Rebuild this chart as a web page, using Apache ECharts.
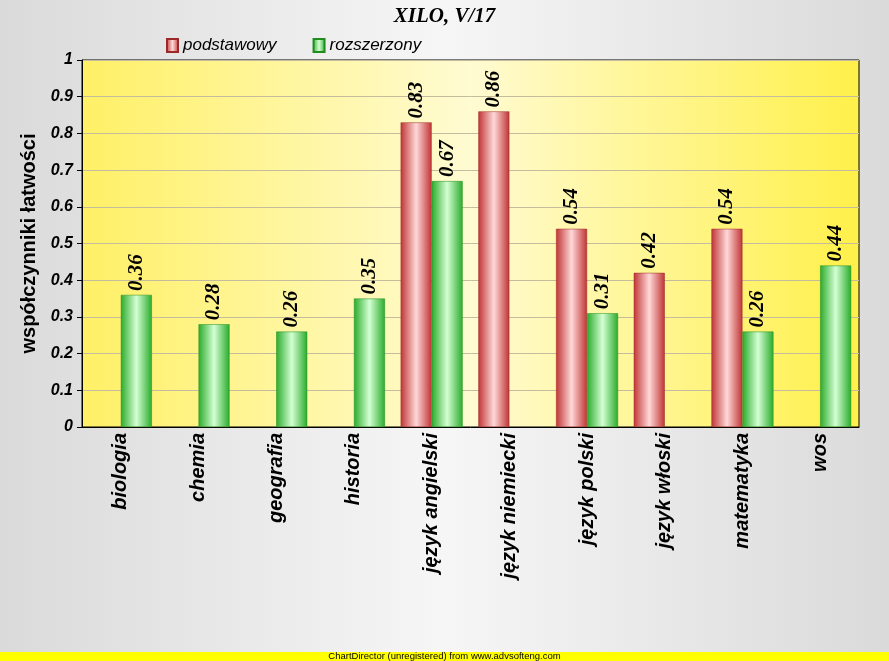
<!DOCTYPE html>
<html>
<head>
<meta charset="utf-8">
<script src="https://cdn.jsdelivr.net/npm/echarts@6/dist/echarts.min.js"></script>
<style>
html, body { margin: 0; padding: 0; }
#chart { width: 889px; height: 661px; }
</style>
</head>
<body>
<div id="chart"></div>
<script>
var categories = ['biologia', 'chemia', 'geografia', 'historia', 'język angielski', 'język niemiecki', 'język polski', 'język włoski', 'matematyka', 'wos'];
var podstawowy = [null, null, null, null, 0.83, 0.86, 0.54, 0.42, 0.54, null];
var rozszerzony = [0.36, 0.28, 0.26, 0.35, 0.67, null, 0.31, null, 0.26, 0.44];

function barGrad(dark, light) {
  return new echarts.graphic.LinearGradient(0, 0, 1, 0, [
    { offset: 0, color: dark },
    { offset: 0.5, color: light },
    { offset: 1, color: dark }
  ]);
}

var redFill = barGrad('#c03434', '#ffd8d8');
var greenFill = barGrad('#2aab2a', '#d4ffd4');

var labelStyle = {
  show: true,
  position: 'top',
  rotate: 90,
  align: 'left',
  verticalAlign: 'middle',
  distance: 4,
  fontFamily: 'Liberation Serif',
  fontWeight: 'bold',
  fontStyle: 'italic',
  fontSize: 21,
  color: '#000'
};

const myEcharts = echarts.init(document.getElementById('chart'));
myEcharts.setOption({
  animation: false,
  backgroundColor: new echarts.graphic.LinearGradient(0, 0, 1, 0, [
    { offset: 0, color: '#dadada' },
    { offset: 0.5, color: '#f6f6f6' },
    { offset: 1, color: '#dadada' }
  ]),
  title: {
    text: 'XILO, V/17',
    left: 'center',
    top: 1,
    textStyle: {
      fontFamily: 'Liberation Serif',
      fontWeight: 'bold',
      fontStyle: 'italic',
      fontSize: 21,
      color: '#000'
    }
  },
  legend: {
    left: 161,
    top: 32,
    itemGap: 36,
    itemWidth: 11,
    itemHeight: 13,
    icon: 'rect',
    textStyle: {
      fontFamily: 'Liberation Sans',
      fontStyle: 'italic',
      fontSize: 17,
      color: '#000'
    },
    data: ['podstawowy', 'rozszerzony']
  },
  grid: {
    left: 82,
    right: 30,
    top: 60,
    bottom: 234,
    show: true,
    borderColor: '#000',
    borderWidth: 1,
    backgroundColor: new echarts.graphic.LinearGradient(0, 0, 1, 0, [
      { offset: 0, color: '#fff066' },
      { offset: 0.5, color: '#fffbd2' },
      { offset: 1, color: '#fff04a' }
    ])
  },
  xAxis: {
    type: 'category',
    data: categories,
    axisLine: { lineStyle: { color: '#000' } },
    axisTick: { alignWithLabel: true, length: 5, lineStyle: { color: '#000' } },
    axisLabel: {
      rotate: 90,
      margin: 6,
      fontFamily: 'Liberation Sans',
      fontWeight: 'bold',
      fontStyle: 'italic',
      fontSize: 20,
      color: '#000'
    }
  },
  yAxis: {
    type: 'value',
    min: 0,
    max: 1,
    interval: 0.1,
    name: 'współczynniki łatwości',
    nameLocation: 'middle',
    nameGap: 35,
    nameTextStyle: {
      fontFamily: 'Liberation Sans',
      fontWeight: 'bold',
      fontSize: 20,
      color: '#000'
    },
    axisLine: { show: true, lineStyle: { color: '#000' } },
    axisTick: { show: true, length: 5, lineStyle: { color: '#000' } },
    axisLabel: {
      margin: 9,
      fontFamily: 'Liberation Sans',
      fontWeight: 'bold',
      fontStyle: 'italic',
      fontSize: 16,
      color: '#000'
    },
    splitLine: { lineStyle: { color: '#c4bc9c' } }
  },
  series: [{
    name: 'podstawowy',
    type: 'bar',
    data: podstawowy,
    barWidth: 31,
    barGap: '0%',
    itemStyle: { color: redFill, borderColor: '#9c2828', borderWidth: 0.5 },
    label: labelStyle
  }, {
    name: 'rozszerzony',
    type: 'bar',
    data: rozszerzony,
    barWidth: 31,
    barGap: '0%',
    itemStyle: { color: greenFill, borderColor: '#208c20', borderWidth: 0.5 },
    label: labelStyle
  }],
  graphic: [{
    type: 'rect',
    left: 0,
    top: 652,
    shape: { width: 889, height: 9 },
    style: { fill: '#ffff00' }
  }, {
    type: 'text',
    left: 'center',
    top: 651,
    style: {
      text: 'ChartDirector (unregistered) from www.advsofteng.com',
      fontFamily: 'Liberation Sans',
      fontSize: 9.5,
      fill: '#000'
    }
  }]
});
</script>
</body>
</html>
